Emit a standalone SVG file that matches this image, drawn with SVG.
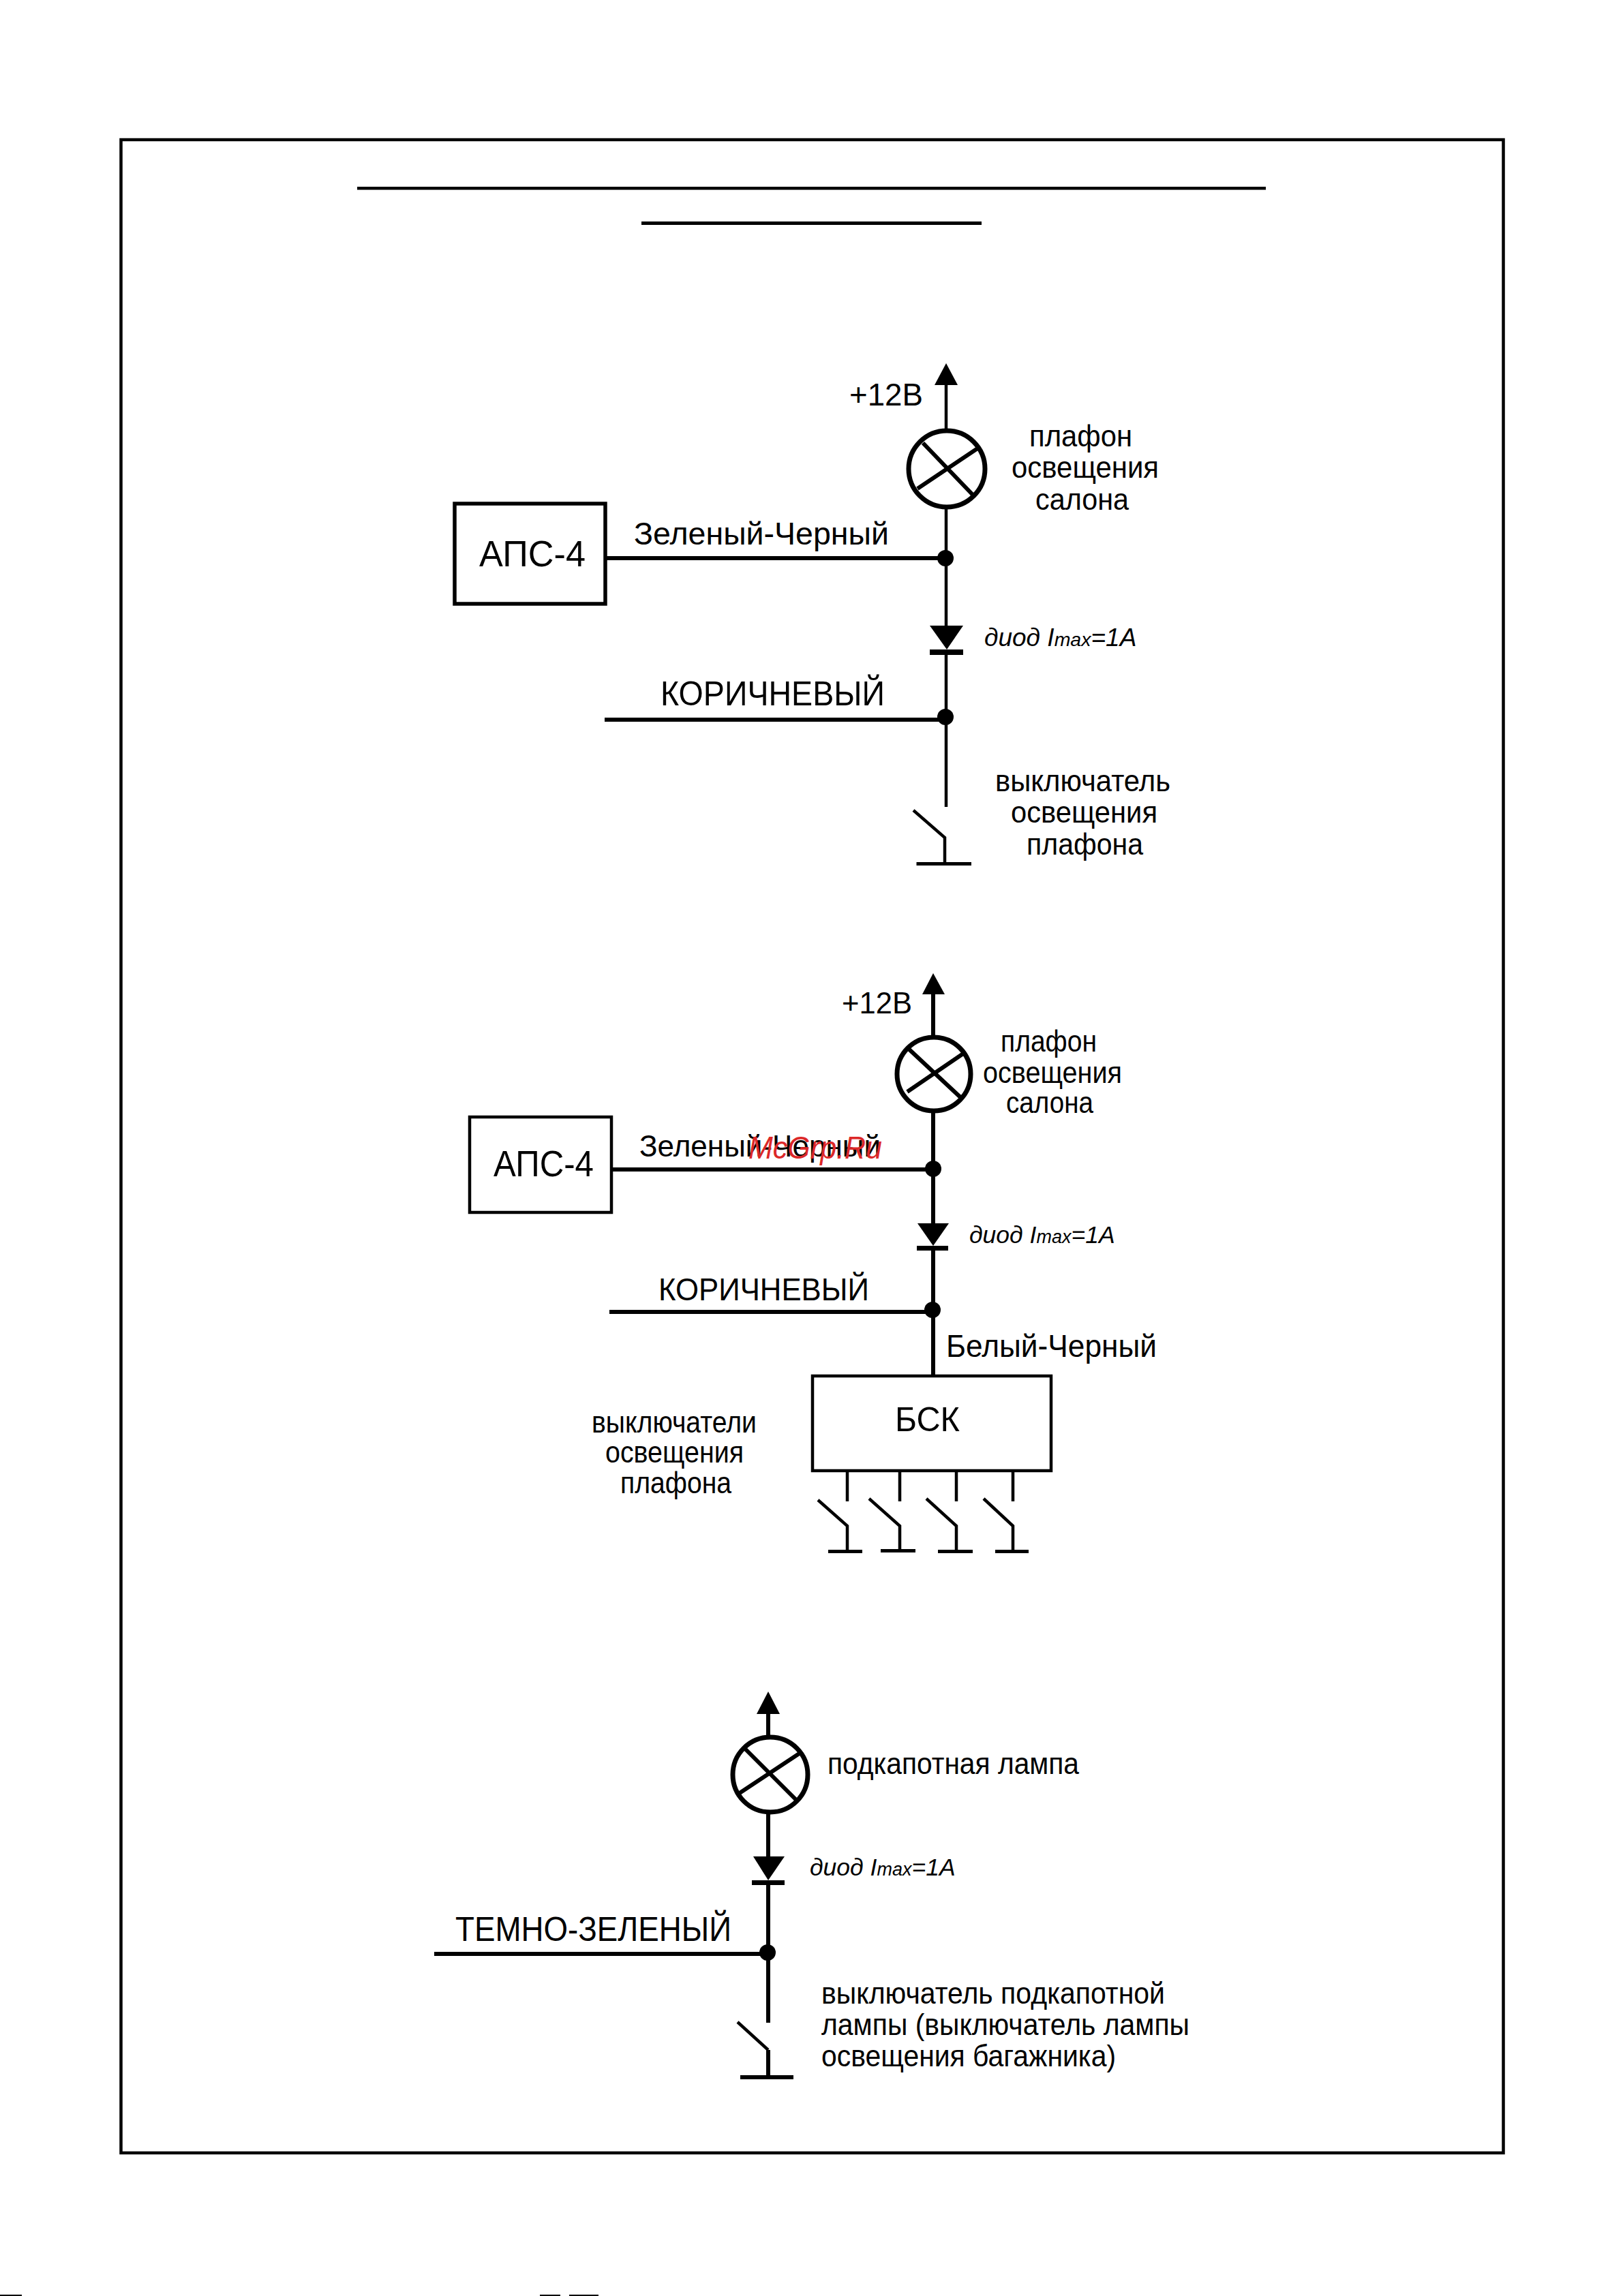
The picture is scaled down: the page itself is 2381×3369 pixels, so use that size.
<svg xmlns="http://www.w3.org/2000/svg" width="2381" height="3369" viewBox="0 0 2381 3369">
<style>
text{font-family:"Liberation Sans",Arial,sans-serif;fill:#000}
.w{stroke:#000;stroke-width:6;fill:none}
.n{stroke:#000;stroke-width:4.500;fill:none}
.f{fill:#000;stroke:none}
.b{fill:none;stroke:#000;stroke-width:5.500}
.l{fill:none;stroke:#000;stroke-width:7}
.x{stroke:#000;stroke-width:6;fill:none}
.t{font-size:45px}
.d{font-size:37px;font-style:italic}
.s{font-size:28.500px}
.d2{font-size:35.500px;font-style:italic}
.s2{font-size:27px}
.wm{font-size:46px;font-style:italic;fill:#dc2828}
</style>
<rect width="2381" height="3369" fill="#fff"/>
<g id="frame">
<rect x="177.500" y="205" width="2028" height="2954" fill="none" stroke="#000" stroke-width="4.500"/>
<rect x="524" y="274" width="1333" height="4.500" class="f"/>
<rect x="941" y="325" width="499" height="5" class="f"/>
<rect x="0" y="3367" width="32" height="2" class="f"/>
<rect x="792" y="3367" width="30" height="2" class="f"/>
<rect x="835" y="3367" width="43" height="2" class="f"/>
</g>
<g id="connectors">
<path class="n" d="M1388 565V631M1388 747V918M1388 961V1184"/>
<path class="w" d="M888 819H1388M887 1056H1388"/>
<path class="n" d="M1340 1189L1386 1229V1267"/>
<path class="w" d="M1369 1459V1521M1369 1631V1795M1369 1835V2019M897 1716H1369M894 1925H1369"/>
<path class="n" d="M1243 2158V2203M1320 2158V2203M1403 2158V2203M1486 2158V2203"/>
<path class="n" d="M1200 2201L1243 2239V2276M1275 2199L1320 2239V2275M1359 2199L1403 2239V2276M1443 2199L1486 2239V2276"/>
<path class="w" d="M1127 2515V2546M1127 2661V2724M1127 2766V2968"/>
<path class="w" d="M637 2867H1127"/>
<path class="n" d="M1082 2967L1127 3008"/>
<path class="w" d="M1127 3008V3047"/>
</g>
<g id="d1-arrow"><polygon class="f" points="1388,533 1405,565 1371,565"/></g>
<g id="d1-lamp"><circle class="l" cx="1389" cy="688" r="56"/><path class="x" d="M1354 650L1428 727M1346 717L1434 658"/></g>
<g id="d1-diode"><polygon class="f" points="1364,918 1413,918 1389,953"/><rect class="f" x="1364" y="953" width="49" height="8"/></g>
<g id="d1-dots"><circle class="f" cx="1387" cy="819" r="12"/><circle class="f" cx="1387" cy="1052" r="12"/></g>
<g id="d1-ground"><rect class="f" x="1344.500" y="1265" width="80.500" height="5"/></g>
<g id="d1-aps"><rect class="b" x="667" y="739" width="221" height="147"/><text x="703" y="831" font-size="53" textLength="156" lengthAdjust="spacingAndGlyphs">АПС-4</text></g>
<g id="d1-labels">
<text x="1246" y="595" font-size="47" textLength="108" lengthAdjust="spacingAndGlyphs">+12В</text>
<text class="t" x="1510" y="655" textLength="151" lengthAdjust="spacingAndGlyphs">плафон</text>
<text class="t" x="1484" y="701" textLength="216" lengthAdjust="spacingAndGlyphs">освещения</text>
<text class="t" x="1519" y="748" textLength="137" lengthAdjust="spacingAndGlyphs">салона</text>
<text x="930" y="799" font-size="47" textLength="374" lengthAdjust="spacingAndGlyphs">Зеленый-Черный</text>
<text class="d" x="1444" y="948">диод I<tspan class="s">max</tspan>=1A</text>
<text x="969" y="1035" font-size="50" textLength="329" lengthAdjust="spacingAndGlyphs">КОРИЧНЕВЫЙ</text>
<text class="t" x="1460" y="1161" textLength="257" lengthAdjust="spacingAndGlyphs">выключатель</text>
<text class="t" x="1483" y="1207" textLength="215" lengthAdjust="spacingAndGlyphs">освещения</text>
<text class="t" x="1506" y="1254" textLength="171" lengthAdjust="spacingAndGlyphs">плафона</text>
</g>
<g id="d2-arrow"><polygon class="f" points="1369,1428 1386,1459 1353,1459"/></g>
<g id="d2-lamp"><circle class="l" cx="1370" cy="1576" r="54"/><path class="x" d="M1334 1540L1410 1611M1331 1602L1413 1546"/></g>
<g id="d2-diode"><polygon class="f" points="1346,1795 1392,1795 1369,1828"/><rect class="f" x="1345" y="1828" width="46" height="7"/></g>
<g id="d2-dots"><circle class="f" cx="1369" cy="1715" r="12"/><circle class="f" cx="1368" cy="1922" r="12"/></g>
<g id="d2-grounds"><rect class="f" x="1215" y="2274" width="50" height="5"/><rect class="f" x="1292" y="2273" width="51" height="5"/><rect class="f" x="1376" y="2274" width="51" height="5"/><rect class="f" x="1460" y="2274" width="49" height="5"/></g>
<g id="d2-aps"><rect class="n" x="689" y="1639" width="208" height="140"/><text x="724" y="1726" font-size="53" textLength="147" lengthAdjust="spacingAndGlyphs">АПС-4</text></g>
<g id="d2-bsk"><rect class="n" x="1192" y="2019" width="350" height="139"/><text x="1313" y="2100" font-size="50" textLength="95" lengthAdjust="spacingAndGlyphs">БСК</text></g>
<g id="d2-labels">
<text x="1235" y="1487" font-size="45" textLength="103" lengthAdjust="spacingAndGlyphs">+12В</text>
<text class="t" x="1468" y="1543" textLength="141" lengthAdjust="spacingAndGlyphs">плафон</text>
<text class="t" x="1442" y="1589" textLength="204" lengthAdjust="spacingAndGlyphs">освещения</text>
<text class="t" x="1476" y="1633" textLength="128" lengthAdjust="spacingAndGlyphs">салона</text>
<text x="938" y="1697" font-size="45" textLength="354" lengthAdjust="spacingAndGlyphs">Зеленый-Черный</text>
<text class="d2" x="1422" y="1824">диод I<tspan class="s2">max</tspan>=1A</text>
<text x="966" y="1908" font-size="47" textLength="309" lengthAdjust="spacingAndGlyphs">КОРИЧНЕВЫЙ</text>
<text x="1388" y="1991" font-size="47" textLength="309" lengthAdjust="spacingAndGlyphs">Белый-Черный</text>
<text class="t" x="868" y="2102" textLength="242" lengthAdjust="spacingAndGlyphs">выключатели</text>
<text class="t" x="888" y="2146" textLength="203" lengthAdjust="spacingAndGlyphs">освещения</text>
<text class="t" x="910" y="2191" textLength="163" lengthAdjust="spacingAndGlyphs">плафона</text>
</g>
<g id="watermark"><text class="wm" x="1098" y="1700" textLength="196" lengthAdjust="spacingAndGlyphs">McGrp.Ru</text></g>
<g id="d3-arrow"><polygon class="f" points="1127,2482 1144,2515 1110,2515"/></g>
<g id="d3-lamp"><circle class="l" cx="1130" cy="2604" r="55"/><path class="x" d="M1090 2563L1170 2643M1083.500 2632L1174 2572"/></g>
<g id="d3-diode"><polygon class="f" points="1105,2724 1151,2724 1127,2759"/><rect class="f" x="1103" y="2759" width="48" height="7"/></g>
<g id="d3-dot"><circle class="f" cx="1126" cy="2865" r="12"/></g>
<g id="d3-ground"><rect class="f" x="1086" y="3045" width="78" height="6"/></g>
<g id="d3-labels">
<text class="t" x="1214" y="2603" textLength="369" lengthAdjust="spacingAndGlyphs">подкапотная лампа</text>
<text class="d2" x="1188" y="2752">диод I<tspan class="s2">max</tspan>=1A</text>
<text x="668" y="2848" font-size="50" textLength="405" lengthAdjust="spacingAndGlyphs">ТЕМНО-ЗЕЛЕНЫЙ</text>
<text class="t" x="1205" y="2940" textLength="504" lengthAdjust="spacingAndGlyphs">выключатель подкапотной</text>
<text class="t" x="1205" y="2986" textLength="540" lengthAdjust="spacingAndGlyphs">лампы (выключатель лампы</text>
<text class="t" x="1205" y="3032" textLength="432" lengthAdjust="spacingAndGlyphs">освещения багажника)</text>
</g>
</svg>
